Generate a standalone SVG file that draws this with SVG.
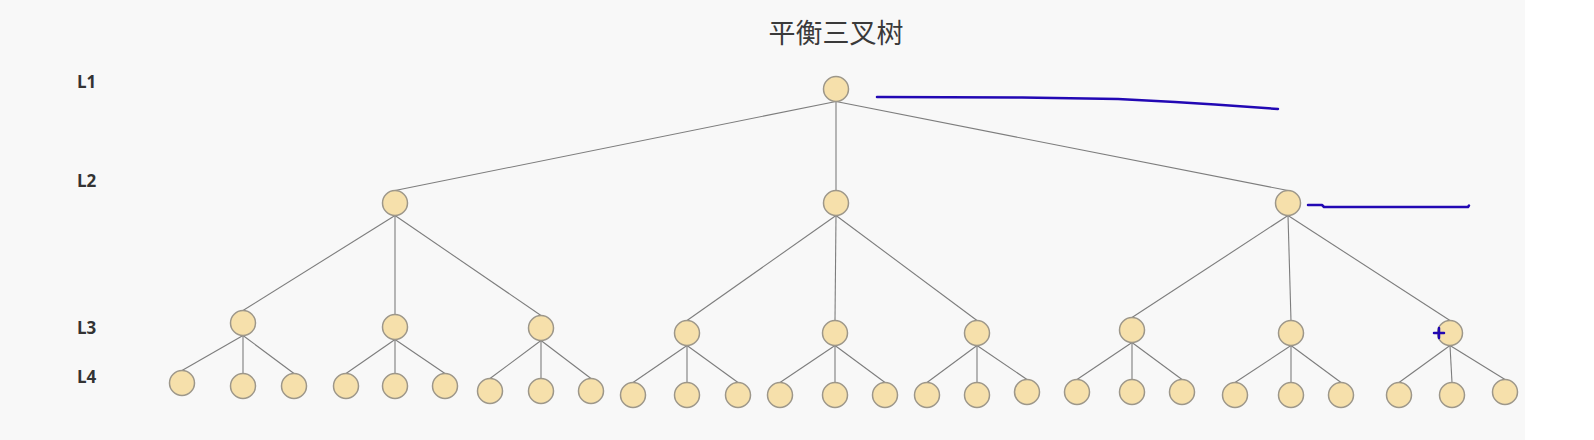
<svg xmlns="http://www.w3.org/2000/svg" width="1594" height="440" viewBox="0 0 1594 440">
<style>
.n{fill:#f6e0ab;stroke:#9d978a;stroke-width:1.5}
.e{stroke:#7d7d7d;stroke-width:1.1;fill:none}
.lbl{font-family:"Open Sans","Liberation Sans",sans-serif;font-weight:bold;font-size:17px;fill:#333}
.ttl{font-family:"Noto Sans CJK SC","Liberation Sans",sans-serif;font-size:27px;fill:#3a3a3a;text-anchor:middle}
.ink{stroke:#2208b4;stroke-width:2.5;fill:none;stroke-linecap:round;stroke-linejoin:round}
</style>
<rect x="0" y="0" width="1594" height="440" fill="#f8f8f8"/>
<rect x="1525" y="0" width="69" height="440" fill="#ffffff"/>
<text class="ttl" x="836" y="43">平衡三叉树</text>
<text class="lbl" x="77" y="88">L1</text>
<text class="lbl" x="77" y="187">L2</text>
<text class="lbl" x="77" y="334">L3</text>
<text class="lbl" x="77" y="383">L4</text>
<g id="connectors">
<line class="e" x1="836" y1="101.5" x2="395" y2="190.5"/>
<line class="e" x1="836" y1="101.5" x2="836" y2="190.5"/>
<line class="e" x1="836" y1="101.5" x2="1288" y2="190.5"/>
<line class="e" x1="395" y1="215.5" x2="243" y2="310.5"/>
<line class="e" x1="395" y1="215.5" x2="395" y2="314.5"/>
<line class="e" x1="395" y1="215.5" x2="541" y2="315.5"/>
<line class="e" x1="836" y1="215.5" x2="687" y2="320.5"/>
<line class="e" x1="836" y1="215.5" x2="835" y2="320.5"/>
<line class="e" x1="836" y1="215.5" x2="977" y2="320.5"/>
<line class="e" x1="1288" y1="215.5" x2="1132" y2="317.5"/>
<line class="e" x1="1288" y1="215.5" x2="1291" y2="320.5"/>
<line class="e" x1="1288" y1="215.5" x2="1450" y2="320.5"/>
<line class="e" x1="243" y1="335.5" x2="182" y2="370.5"/>
<line class="e" x1="243" y1="335.5" x2="243" y2="373.5"/>
<line class="e" x1="243" y1="335.5" x2="294" y2="373.5"/>
<line class="e" x1="395" y1="339.5" x2="346" y2="373.5"/>
<line class="e" x1="395" y1="339.5" x2="395" y2="373.5"/>
<line class="e" x1="395" y1="339.5" x2="445" y2="373.5"/>
<line class="e" x1="541" y1="340.5" x2="490" y2="378.5"/>
<line class="e" x1="541" y1="340.5" x2="541" y2="378.5"/>
<line class="e" x1="541" y1="340.5" x2="591" y2="378.5"/>
<line class="e" x1="687" y1="345.5" x2="633" y2="382.5"/>
<line class="e" x1="687" y1="345.5" x2="687" y2="382.5"/>
<line class="e" x1="687" y1="345.5" x2="738" y2="382.5"/>
<line class="e" x1="835" y1="345.5" x2="780" y2="382.5"/>
<line class="e" x1="835" y1="345.5" x2="835" y2="382.5"/>
<line class="e" x1="835" y1="345.5" x2="885" y2="382.5"/>
<line class="e" x1="977" y1="345.5" x2="927" y2="382.5"/>
<line class="e" x1="977" y1="345.5" x2="977" y2="382.5"/>
<line class="e" x1="977" y1="345.5" x2="1027" y2="379.5"/>
<line class="e" x1="1132" y1="342.5" x2="1077" y2="379.5"/>
<line class="e" x1="1132" y1="342.5" x2="1132" y2="379.5"/>
<line class="e" x1="1132" y1="342.5" x2="1182" y2="379.5"/>
<line class="e" x1="1291" y1="345.5" x2="1235" y2="382.5"/>
<line class="e" x1="1291" y1="345.5" x2="1291" y2="382.5"/>
<line class="e" x1="1291" y1="345.5" x2="1341" y2="382.5"/>
<line class="e" x1="1450" y1="345.5" x2="1399" y2="382.5"/>
<line class="e" x1="1450" y1="345.5" x2="1452" y2="382.5"/>
<line class="e" x1="1450" y1="345.5" x2="1505" y2="379.5"/>
</g>
<g id="root"><circle class="n" cx="836" cy="89" r="12.5"/></g>
<g id="l2a"><circle class="n" cx="395" cy="203" r="12.5"/></g>
<g id="l2b"><circle class="n" cx="836" cy="203" r="12.5"/></g>
<g id="l2c"><circle class="n" cx="1288" cy="203" r="12.5"/></g>
<g id="l3a"><circle class="n" cx="243" cy="323" r="12.5"/></g>
<g id="l3b"><circle class="n" cx="395" cy="327" r="12.5"/></g>
<g id="l3c"><circle class="n" cx="541" cy="328" r="12.5"/></g>
<g id="l3d"><circle class="n" cx="687" cy="333" r="12.5"/></g>
<g id="l3e"><circle class="n" cx="835" cy="333" r="12.5"/></g>
<g id="l3f"><circle class="n" cx="977" cy="333" r="12.5"/></g>
<g id="l3g"><circle class="n" cx="1132" cy="330" r="12.5"/></g>
<g id="l3h"><circle class="n" cx="1291" cy="333" r="12.5"/></g>
<g id="l3i"><circle class="n" cx="1450" cy="333" r="12.5"/></g>
<g id="l4a1"><circle class="n" cx="182" cy="383" r="12.5"/></g>
<g id="l4a2"><circle class="n" cx="243" cy="386" r="12.5"/></g>
<g id="l4a3"><circle class="n" cx="294" cy="386" r="12.5"/></g>
<g id="l4b1"><circle class="n" cx="346" cy="386" r="12.5"/></g>
<g id="l4b2"><circle class="n" cx="395" cy="386" r="12.5"/></g>
<g id="l4b3"><circle class="n" cx="445" cy="386" r="12.5"/></g>
<g id="l4c1"><circle class="n" cx="490" cy="391" r="12.5"/></g>
<g id="l4c2"><circle class="n" cx="541" cy="391" r="12.5"/></g>
<g id="l4c3"><circle class="n" cx="591" cy="391" r="12.5"/></g>
<g id="l4d1"><circle class="n" cx="633" cy="395" r="12.5"/></g>
<g id="l4d2"><circle class="n" cx="687" cy="395" r="12.5"/></g>
<g id="l4d3"><circle class="n" cx="738" cy="395" r="12.5"/></g>
<g id="l4e1"><circle class="n" cx="780" cy="395" r="12.5"/></g>
<g id="l4e2"><circle class="n" cx="835" cy="395" r="12.5"/></g>
<g id="l4e3"><circle class="n" cx="885" cy="395" r="12.5"/></g>
<g id="l4f1"><circle class="n" cx="927" cy="395" r="12.5"/></g>
<g id="l4f2"><circle class="n" cx="977" cy="395" r="12.5"/></g>
<g id="l4f3"><circle class="n" cx="1027" cy="392" r="12.5"/></g>
<g id="l4g1"><circle class="n" cx="1077" cy="392" r="12.5"/></g>
<g id="l4g2"><circle class="n" cx="1132" cy="392" r="12.5"/></g>
<g id="l4g3"><circle class="n" cx="1182" cy="392" r="12.5"/></g>
<g id="l4h1"><circle class="n" cx="1235" cy="395" r="12.5"/></g>
<g id="l4h2"><circle class="n" cx="1291" cy="395" r="12.5"/></g>
<g id="l4h3"><circle class="n" cx="1341" cy="395" r="12.5"/></g>
<g id="l4i1"><circle class="n" cx="1399" cy="395" r="12.5"/></g>
<g id="l4i2"><circle class="n" cx="1452" cy="395" r="12.5"/></g>
<g id="l4i3"><circle class="n" cx="1505" cy="392" r="12.5"/></g>
<g id="annotations">
<path class="ink" d="M877 97 L1022 97.5 L1118 99 L1175 102 L1215 104.5 L1278 109"/>
<path class="ink" d="M1308 205 L1322 205 L1324 207 L1468 207 L1469 205.5"/>
<path class="ink" d="M1434 333 L1444 333 M1439 328 L1439 338"/>
</g>
</svg>
